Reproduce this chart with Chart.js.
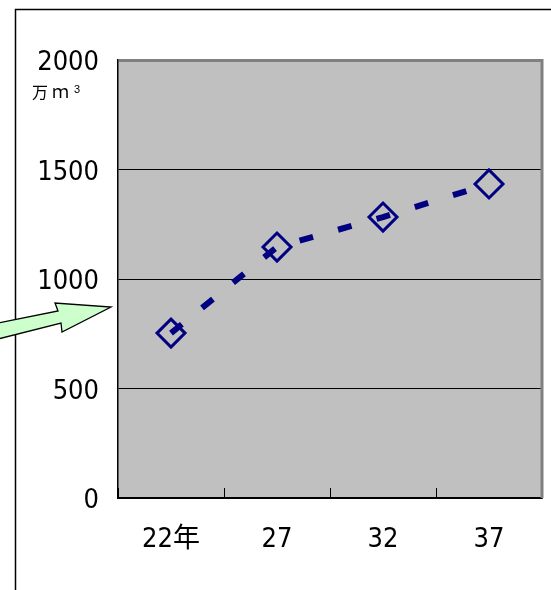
<!DOCTYPE html>
<html><head><meta charset="utf-8">
<script src="https://cdn.jsdelivr.net/npm/chart.js@4/dist/chart.umd.min.js"></script>
<style>html,body{margin:0;padding:0;background:#fff;}#wrap{width:551px;height:590px;position:relative;}</style>
</head><body><div id="wrap"><canvas id="c" width="551" height="590"></canvas></div>
<script>
const categories = ['22年', '27', '32', '37'];
const values = [753, 1146, 1283, 1434];
const yTicks = [0, 500, 1000, 1500, 2000];
const unitParts = ['万', 'ｍ', '3'];

const FONT = "'DejaVu Sans Condensed', 'Liberation Sans', 'Noto Sans CJK JP', sans-serif";

const decor = {
  id: 'decor',
  beforeDraw(chart) {
    const ctx = chart.ctx, a = chart.chartArea;
    ctx.save();
    ctx.fillStyle = '#fff';
    ctx.fillRect(0, 0, chart.width, chart.height);
    ctx.strokeStyle = '#000'; ctx.lineWidth = 1.5;
    ctx.strokeRect(15.5, 9.5, chart.width + 10, chart.height + 10);
    ctx.fillStyle = '#c0c0c0';
    ctx.fillRect(a.left, a.top, a.right - a.left, a.bottom - a.top);
    ctx.restore();
  },
  afterDraw(chart) {
    const ctx = chart.ctx, a = chart.chartArea;
    ctx.save();
    ctx.strokeStyle = '#808080'; ctx.lineWidth = 3;
    ctx.beginPath(); ctx.moveTo(a.right, a.top - 1); ctx.lineTo(a.right, a.bottom); ctx.stroke();
    // unit label
    ctx.fillStyle = '#000';
    ctx.textBaseline = 'alphabetic';
    ctx.font = "16px 'Noto Sans CJK JP', sans-serif";
    ctx.fillText(unitParts[0], 32, 98);
    ctx.font = "17px 'Noto Sans CJK JP', sans-serif";
    ctx.fillText(unitParts[1], 52, 98);
    ctx.font = "11px 'Liberation Sans', sans-serif";
    ctx.fillText(unitParts[2], 74, 93);
    // arrow annotation
    ctx.beginPath();
    ctx.moveTo(-2, 323);
    ctx.lineTo(58, 311);
    ctx.lineTo(55, 303);
    ctx.lineTo(111, 307);
    ctx.lineTo(62, 332);
    ctx.lineTo(61, 323);
    ctx.lineTo(-2, 339);
    ctx.closePath();
    ctx.fillStyle = '#ccffcc';
    ctx.fill();
    ctx.strokeStyle = '#000'; ctx.lineWidth = 1.3;
    ctx.stroke();
    ctx.restore();
  }
};

new Chart(document.getElementById('c'), {
  type: 'line',
  data: {
    labels: categories,
    datasets: [{
      data: values,
      borderColor: '#000080',
      borderWidth: 6,
      borderDash: [14, 26],
      pointStyle: 'rectRot',
      pointRadius: 14,
      pointBorderWidth: 3,
      pointBorderColor: '#000080',
      pointBackgroundColor: 'rgba(0,0,0,0)',
      tension: 0,
      fill: false
    }]
  },
  options: {
    responsive: false,
    animation: false,
    devicePixelRatio: 1,
    layout: { autoPadding: false, padding: { left: 0, right: 9, top: 60, bottom: 0 } },
    plugins: { legend: { display: false }, tooltip: { enabled: false } },
    scales: {
      x: {
        type: 'category',
        offset: true,
        grid: { offset: true, drawOnChartArea: false, drawTicks: true, tickLength: -10, color: '#000', lineWidth: 1 },
        border: { display: true, color: '#000', width: 1.5 },
        ticks: { color: '#000', font: { family: FONT, size: 27 }, padding: 36, maxRotation: 0, autoSkip: false },
        afterFit(s) { s.height = 92; s.paddingLeft = 0; s.paddingRight = 0; }
      },
      y: {
        min: 0, max: 2000,
        afterBuildTicks(s) { s.ticks = yTicks.map(v => ({ value: v })); },
        grid: {
          drawTicks: false,
          color: c => (c.tick && c.tick.value === 2000) ? '#808080' : '#000',
          lineWidth: c => (c.tick && c.tick.value === 2000) ? 3 : 1
        },
        border: { display: true, color: '#000', width: 1.5 },
        ticks: { color: '#000', font: { family: FONT, size: 27 }, padding: 19, labelOffset: 3, callback: v => String(v) },
        afterFit(s) { s.width = 118; s.paddingTop = 0; s.paddingBottom = 0; }
      }
    }
  },
  plugins: [decor]
});
</script>
</body></html>
